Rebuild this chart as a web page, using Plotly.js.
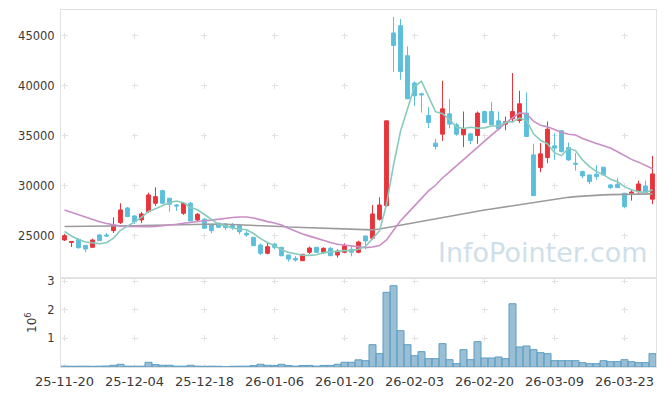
<!DOCTYPE html>
<html>
<head>
<meta charset="utf-8">
<script src="https://cdn.plot.ly/plotly-3.0.1.min.js"></script>
<style>html,body{margin:0;padding:0;background:#fff;}#chart{width:665px;height:396px;}</style>
</head>
<body>
<div id="chart"></div>
<script>
const dates = ["2025-11-20","2025-11-21","2025-11-24","2025-11-25","2025-11-26","2025-11-27","2025-11-28","2025-12-01","2025-12-02","2025-12-03",
"2025-12-04","2025-12-05","2025-12-08","2025-12-09","2025-12-10","2025-12-11","2025-12-12","2025-12-15","2025-12-16","2025-12-17",
"2025-12-18","2025-12-19","2025-12-22","2025-12-23","2025-12-24","2025-12-26","2025-12-29","2025-12-30","2026-01-02","2026-01-05",
"2026-01-06","2026-01-07","2026-01-08","2026-01-09","2026-01-12","2026-01-13","2026-01-14","2026-01-15","2026-01-16","2026-01-19",
"2026-01-20","2026-01-21","2026-01-22","2026-01-23","2026-01-26","2026-01-27","2026-01-28","2026-01-29","2026-01-30","2026-02-02",
"2026-02-03","2026-02-04","2026-02-05","2026-02-06","2026-02-09","2026-02-10","2026-02-11","2026-02-12","2026-02-13","2026-02-19",
"2026-02-20","2026-02-23","2026-02-24","2026-02-25","2026-02-26","2026-02-27","2026-03-03","2026-03-04","2026-03-05","2026-03-06",
"2026-03-09","2026-03-10","2026-03-11","2026-03-12","2026-03-13","2026-03-16","2026-03-17","2026-03-18","2026-03-19","2026-03-20",
"2026-03-23","2026-03-24","2026-03-25","2026-03-26","2026-03-27"];

const openP = [24600,24350,24670,24070,23870,25100,25100,25530,26330,27800,
27000,26600,27430,28270,29530,28770,28100,27270,28270,26600,
26670,26100,26270,26200,26050,26030,25270,24870,24100,23270,
24200,23870,23100,22770,22530,23370,23870,23370,23770,23100,
23370,23670,23370,25000,24770,26670,28030,45270,46000,43000,
40270,39200,37030,34270,35170,37200,36100,35100,35200,35030,
37430,37430,36500,36170,36700,36530,37270,33100,31830,32830,
34000,35500,33830,32270,31430,31100,31170,31870,30100,30170,
29270,29270,29430,30000,28670];

const highP = [25200,24500,24770,24100,24730,25200,25300,26870,28270,27900,
27100,27400,29330,29870,29600,28800,28200,28400,28400,27300,
26800,26200,26350,26300,26300,26100,25530,24900,24270,24330,
24330,23900,23100,23000,23200,23930,23900,23870,23900,23670,
24270,24000,24530,25030,28100,28870,36500,46870,46670,43930,
40430,39300,37870,34700,40500,38670,36300,37430,35300,37430,
37500,38370,37430,36930,41270,39500,39330,34200,34270,36430,
35270,35570,34330,33270,31530,31100,32070,31900,30200,30770,
29300,29670,30530,30530,33000];

const lowP = [24500,23900,23730,23370,23830,24530,24900,25300,26200,26900,
26200,26300,27300,28000,28200,27430,27500,27100,26500,26400,
25700,25270,25800,25600,25600,25170,24930,24000,23100,23170,
23670,22970,22430,22430,22500,23200,23300,23200,23000,22830,
23270,22970,23270,23670,24600,26530,27900,41370,40600,38700,
37970,37330,35770,33630,34500,35770,35000,33870,34170,34200,
36270,36000,35570,35570,36330,36270,34930,29030,31370,32270,
32600,33330,32500,31530,30770,30170,30600,31000,29700,29830,
27770,28530,29230,29200,28170];

const closeP = [25030,24450,23830,23700,24600,24530,25000,26100,27600,26930,
26430,27200,29100,28930,28270,28170,28000,28270,26500,27170,
25770,25530,25870,25830,25850,25430,25100,24030,23270,23930,
23870,23030,22700,22600,23170,23800,23370,23770,23030,23500,
24030,23370,24400,24500,27200,28100,36500,44030,41430,38700,
39000,39100,36330,33930,37700,36170,35170,35700,34530,37270,
36330,36100,35700,36430,37430,38200,34930,29030,33200,35670,
33770,33430,32600,32170,31000,30430,30930,31100,29830,29830,
27930,29370,30200,29330,31200];

const volume = [30000,25000,28000,30000,25000,30000,35000,60000,95000,30000,
28000,30000,165000,85000,60000,60000,30000,28000,60000,30000,
25000,28000,25000,5000,25000,28000,30000,50000,95000,60000,
50000,95000,50000,30000,50000,55000,30000,55000,55000,95000,
165000,165000,250000,220000,780000,466000,2610000,2840000,1270000,780000,
396000,536000,291000,291000,816000,256000,117000,606000,256000,886000,
315000,315000,350000,291000,2210000,700000,734000,606000,501000,466000,
221000,221000,221000,221000,152000,117000,117000,221000,186000,186000,
256000,186000,152000,152000,466000];

const ma5 = [25450,25000,24650,24400,24322,24222,24332,24786,25566,26032,
26412,26852,27452,27718,27986,28334,28494,28328,27842,27622,
27142,26648,26168,26034,25770,25702,25616,25248,24736,24352,
24040,23626,23360,23226,23074,23060,23128,23342,23428,23494,
23540,23540,23666,23960,24700,25514,28140,32066,35452,37752,
39932,40452,38912,37412,37212,36646,35860,35734,35854,35768,
35800,35986,35986,36366,36398,36772,36538,35204,34558,34206,
33320,33020,33734,33528,32594,31926,31426,31126,30658,30424,
29924,29612,29432,29332,29606];

const ma20 = [27600,27350,27100,26850,26620,26420,26250,26100,26000,25950,
25930,25930,25930,25950,26000,26080,26170,26270,26370,26490,
26528,26582,26684,26790,26853,26898,26903,26799,26583,26433,
26305,26096,25776,25460,25205,24986,24755,24530,24356,24173,
24086,23978,23904,23838,23905,24039,24609,25609,26517,27255,
28012,28815,29497,30063,30790,31408,31998,32595,33170,33858,
34473,35110,35675,36271,36783,37288,37209,36459,36048,35896,
35635,35351,35165,35077,34742,34455,34243,34013,33778,33406,
32986,32649,32374,32019,31708];

const maLong = [25950,25950,25950,25950,25960,25970,25980,25990,26000,26010,
26020,26040,26060,26080,26100,26120,26140,26160,26180,26200,
26220,26210,26190,26170,26150,26120,26090,26060,26030,26000,
25970,25940,25900,25870,25840,25810,25780,25750,25720,25700,
25680,25660,25640,25620,25610,25700,25830,25960,26090,26220,
26350,26480,26610,26740,26870,27000,27130,27250,27370,27480,
27590,27700,27810,27920,28030,28140,28250,28360,28470,28580,
28680,28770,28860,28930,28990,29040,29080,29110,29130,29150,
29160,29170,29180,29190,29200];

const tickDates = ["2025-11-20","2025-12-04","2025-12-18","2026-01-06","2026-01-20","2026-02-03","2026-02-20","2026-03-09","2026-03-23"];
const tickLabels = ["25-11-20","25-12-04","25-12-18","26-01-06","26-01-20","26-02-03","26-02-20","26-03-09","26-03-23"];
const priceTicks = [25000,30000,35000,40000,45000];
const priceTickLabels = ["25000","30000","35000","40000","45000"];
const volTicks = [1000000,2000000,3000000];
const volTickLabels = ["1","2","3"];

const upColor = '#e8343b', downColor = '#5cbfdb';
const font = {family:'DejaVu Sans', size:11.5, color:'#3a3a3a'};
const gridC = '#e2e2e2', lineC = '#e2e2e2';

const traces = [
  {type:'candlestick', x:dates, open:openP, high:highP, low:lowP, close:closeP,
   xaxis:'x', yaxis:'y', whiskerwidth:0, hoverinfo:'skip', showlegend:false,
   increasing:{line:{color:upColor,width:1}, fillcolor:upColor},
   decreasing:{line:{color:downColor,width:1}, fillcolor:downColor}},
  {type:'scatter', mode:'lines', x:dates, y:maLong, xaxis:'x', yaxis:'y', line:{color:'#9b9b9b',width:1.6}, hoverinfo:'skip', showlegend:false},
  {type:'scatter', mode:'lines', x:dates, y:ma20, xaxis:'x', yaxis:'y', line:{color:'#c98ec6',width:1.6}, hoverinfo:'skip', showlegend:false},
  {type:'scatter', mode:'lines', x:dates, y:ma5, xaxis:'x', yaxis:'y', line:{color:'#88cbbd',width:1.6}, hoverinfo:'skip', showlegend:false},
  {type:'bar', x:dates, y:volume, xaxis:'x2', yaxis:'y2', hoverinfo:'skip', showlegend:false,
   marker:{color:'rgba(120,170,198,0.75)', line:{color:'#5b9ec4', width:1}}}
];

const layout = {
  width:665, height:396,
  margin:{l:61, r:9, t:10, b:29},
  paper_bgcolor:'#fff', plot_bgcolor:'#fff',
  font:font, showlegend:false, bargap:0, boxgap:0.22,
  xaxis:{type:'category', domain:[0,1], anchor:'y', range:[-0.5,84.5], showticklabels:false,
    tickmode:'array', tickvals:tickDates, showgrid:true, gridcolor:gridC, gridwidth:1,
    griddash:'0px,22.7px,6px,21.38px', showline:true, mirror:true, linecolor:lineC, linewidth:1,
    zeroline:false, ticks:'', rangeslider:{visible:false}, fixedrange:true},
  xaxis2:{type:'category', domain:[0,1], anchor:'y2', matches:'x', range:[-0.5,84.5],
    tickmode:'array', tickvals:tickDates, ticktext:tickLabels, tickfont:{family:'DejaVu Sans', size:13, color:'#3a3a3a'},
    showgrid:true, gridcolor:gridC, gridwidth:1, griddash:'5.86px,22.74px',
    showline:true, mirror:true, linecolor:lineC, linewidth:1, zeroline:false, ticks:'outside', ticklen:2, tickcolor:'rgba(0,0,0,0)',
    rangeslider:{visible:false}},
  yaxis:{domain:[0.2485,1], anchor:'x', range:[20776,47566], tickmode:'array', tickvals:priceTicks, ticktext:priceTickLabels,
    showgrid:true, gridcolor:gridC, gridwidth:1, griddash:'0px,0.5px,6px,63.5px',
    showline:true, mirror:true, linecolor:lineC, linewidth:1, zeroline:false,
    ticks:'outside', ticklen:3, tickcolor:'rgba(0,0,0,0)'},
  yaxis2:{domain:[0,0.2485], anchor:'x2', range:[0,3100000], tickmode:'array', tickvals:volTicks, ticktext:volTickLabels,
    showgrid:true, gridcolor:gridC, gridwidth:1, griddash:'0px,0.5px,6px,63.5px',
    showline:true, mirror:true, linecolor:lineC, linewidth:1, zeroline:false,
    ticks:'outside', ticklen:3, tickcolor:'rgba(0,0,0,0)',
    title:{text:'10<sup>6</sup>', font:{family:'DejaVu Sans', size:12, color:'#3a3a3a'}, standoff:8}},
  annotations:[{text:'InfoPointer.com', xref:'paper', yref:'paper', x:0.99, y:0.322, xanchor:'right', yanchor:'middle',
    showarrow:false, font:{family:'DejaVu Sans', size:27, color:'#cfdfea'}}]
};

Plotly.newPlot('chart', traces, layout, {staticPlot:true, displayModeBar:false});
</script>
</body>
</html>
